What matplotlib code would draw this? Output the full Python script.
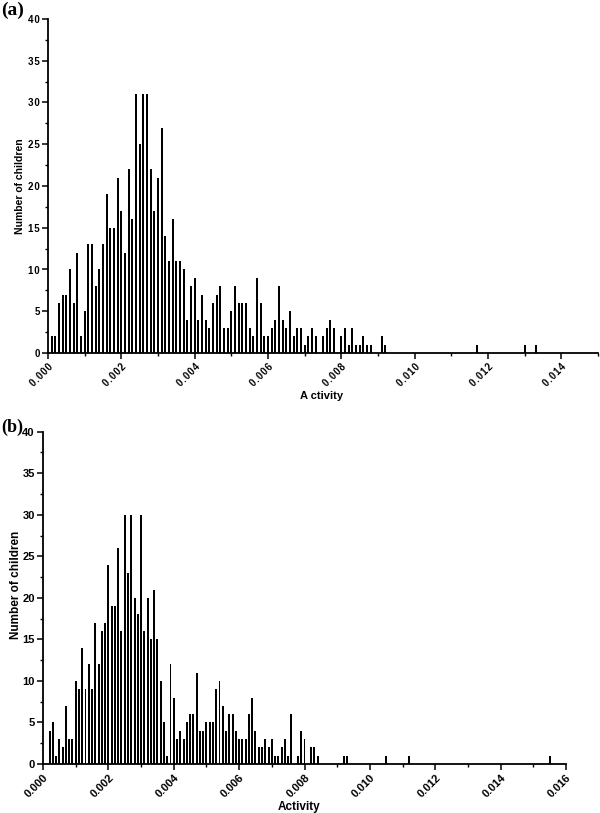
import numpy as np
import matplotlib
matplotlib.use("Agg")
import matplotlib.pyplot as plt
from matplotlib.ticker import MultipleLocator, FuncFormatter

plt.rcParams['font.family'] = ['Liberation Sans', 'DejaVu Sans']

# ---------------- data ----------------
BIN = 0.0001
# panel (a): counts for bin centres 0.0001, 0.0002, ... 0.0092
a_start = 0.0001
a_counts = [2, 2, 6, 7, 7, 10, 6, 12, 2, 5,
            13, 13, 8, 10, 13, 19, 15, 15, 21, 17,
            12, 22, 16, 31, 25, 31, 31, 22, 17, 21,
            27, 14, 11, 16, 11, 11, 10, 4, 8, 9,
            4, 7, 4, 3, 6, 7, 8, 3, 3, 5,
            8, 6, 6, 6, 3, 2, 9, 6, 2, 2,
            3, 4, 8, 4, 3, 5, 2, 3, 3, 1,
            2, 3, 2, 0, 2, 3, 4, 3, 0, 2,
            3, 1, 3, 1, 1, 2, 1, 1, 0, 0,
            2, 1]
a_extra_x = [0.0117, 0.0130, 0.0133]
a_extra_n = [1, 1, 1]

# panel (b): counts for bin centres 0.0002, 0.0003, ... 0.0084
b_start = 0.0002
b_counts = [4, 5, 1, 3, 2, 7, 3, 3, 10, 9,
            14, 9, 12, 9, 17, 12, 16, 17, 24, 19,
            19, 26, 16, 30, 23, 30, 20, 18, 30, 16,
            20, 15, 21, 15, 10, 5, 1, 12, 8, 3,
            4, 3, 5, 6, 6, 11, 4, 4, 5, 5,
            5, 9, 10, 7, 4, 6, 6, 4, 3, 3,
            3, 6, 8, 4, 2, 2, 3, 2, 3, 1,
            1, 2, 3, 1, 6, 0, 1, 4, 3, 0,
            2, 2, 1]
b_extra_x = [0.0092, 0.0093, 0.0105, 0.0112, 0.0155]
b_extra_n = [1, 1, 1, 1, 1]

ylabel = "Number of children"
xlabel = "Activity"

HS = "\u200a"  # hair space for letter-spaced text in panel (a)


def spaced(s):
    return HS.join(list(s))


fig = plt.figure(figsize=(6.0, 8.13), dpi=100)


def style_axes(ax, xmax, xmajor, fs, spacing):
    for s in ['top', 'right']:
        ax.spines[s].set_visible(False)
    for s in ['left', 'bottom']:
        ax.spines[s].set_linewidth(1.3)
    ax.set_ylim(0, 40)
    ax.set_xlim(0, xmax)
    ax.yaxis.set_major_locator(MultipleLocator(5))
    ax.yaxis.set_minor_locator(MultipleLocator(2.5))
    ax.xaxis.set_major_locator(MultipleLocator(xmajor))
    ax.xaxis.set_minor_locator(MultipleLocator(xmajor / 2))
    ax.tick_params(which='major', length=4, width=1.1, direction='out', pad=2)
    ax.tick_params(which='minor', length=2.5, width=1.0, direction='out')
    if spacing:
        ax.xaxis.set_major_formatter(FuncFormatter(lambda v, p: spaced(f"{v:.3f}")))
        ax.yaxis.set_major_formatter(FuncFormatter(lambda v, p: spaced(f"{v:.0f}")))
    else:
        ax.xaxis.set_major_formatter(FuncFormatter(lambda v, p: f"{v:.3f}"))
        ax.yaxis.set_major_formatter(FuncFormatter(lambda v, p: f"{v:.0f}"))
    for lab in ax.get_xticklabels():
        lab.set_rotation(45)
        lab.set_ha('right')
        lab.set_va('top')
        lab.set_rotation_mode('anchor')
        lab.set_fontsize(fs)
        lab.set_fontweight('bold')
    for lab in ax.get_yticklabels():
        lab.set_fontsize(fs)
        lab.set_fontweight('bold')


# ---------- panel (a) ----------
axa = fig.add_axes([48 / 600, 1 - 353 / 813, 550 / 600, 334 / 813])
xa = a_start + BIN * np.arange(len(a_counts))
axa.bar(xa, a_counts, width=0.000062, color='black', linewidth=0,
        align='center', antialiased=False)
axa.bar(a_extra_x, a_extra_n, width=0.000062, color='black', linewidth=0,
        align='center', antialiased=False)
style_axes(axa, 0.015, 0.002, 7, True)
axa.set_ylabel(ylabel, fontsize=7.5, fontweight='bold')
axa.set_xlabel("A ctivity", fontsize=8, fontweight='bold')
axa.xaxis.set_label_coords(0.497, -0.115)
axa.yaxis.set_label_coords(-0.042, 0.5)

# ---------- panel (b) ----------
axb = fig.add_axes([43 / 600, 1 - 764 / 813, 523 / 600, 332.3 / 813])
xb = b_start + BIN * np.arange(len(b_counts))
axb.bar(xb, b_counts, width=0.00006, color='black', linewidth=0,
        align='center', antialiased=False)
axb.bar(b_extra_x, b_extra_n, width=0.00006, color='black', linewidth=0,
        align='center', antialiased=False)
style_axes(axb, 0.016, 0.002, 8, False)
axb.set_ylabel(ylabel, fontsize=8.5, fontweight='bold')
axb.set_xlabel(xlabel, fontsize=8.5, fontweight='bold')
axb.xaxis.set_label_coords(0.49, -0.11)
axb.yaxis.set_label_coords(-0.04, 0.54)

# panel letters
fig.text(1 / 600, 1 - 2 / 813, "(a)", fontsize=14, fontweight='bold',
         family=['Liberation Serif', 'DejaVu Serif'], va='top', ha='left')
fig.text(1 / 600, 1 - 419 / 813, "(b)", fontsize=13, fontweight='bold',
         family=['Liberation Serif', 'DejaVu Serif'], va='top', ha='left')

fig.savefig("out.png", dpi=100)
